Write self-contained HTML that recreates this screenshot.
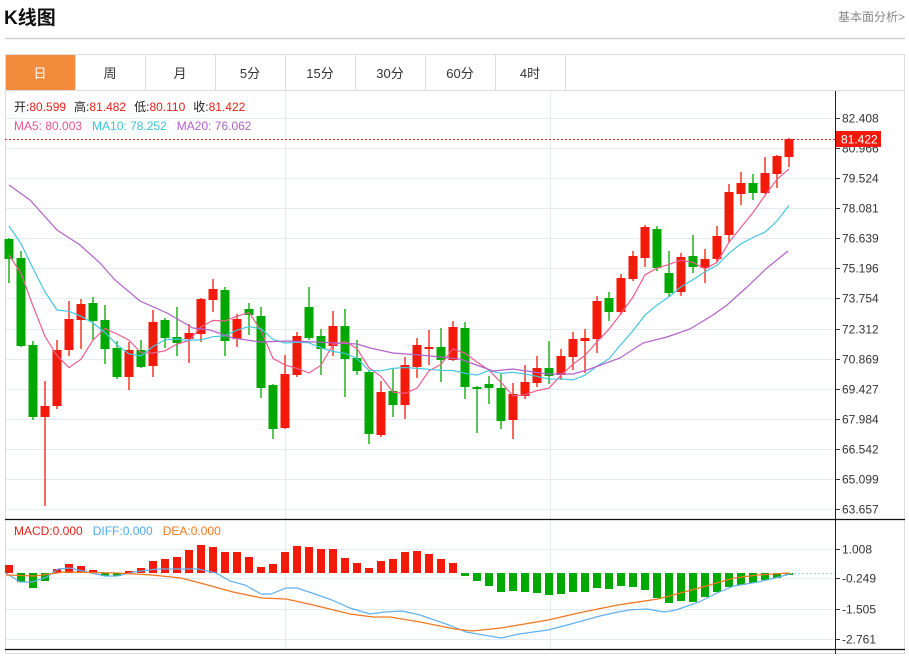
<!DOCTYPE html>
<html><head><meta charset="utf-8"><style>
body{margin:0;background:#fff;width:909px;height:654px;overflow:hidden;font-family:"Liberation Sans","Noto Sans CJK SC",sans-serif;}
</style></head><body>
<svg id="s" width="909" height="654" xmlns="http://www.w3.org/2000/svg" font-family="Liberation Sans, Noto Sans CJK SC, sans-serif">
<text x="4" y="24" font-size="19" font-weight="bold" fill="#111">K线图</text>
<text x="905" y="21" font-size="12" fill="#888" text-anchor="end">基本面分析&gt;</text>
<line x1="5" y1="38.5" x2="905" y2="38.5" stroke="#d0d0d0" stroke-width="1.5"/>
<rect x="5.5" y="54.5" width="899" height="599" fill="none" stroke="#dcdcdc"/>
<line x1="5" y1="90.5" x2="905" y2="90.5" stroke="#dcdcdc"/>
<rect x="6" y="55" width="69" height="35" fill="#f28c3c"/>
<g id="tabs"></g>
<g id="grid"></g>
<g id="cand"></g>
<g id="lines"></g>
<g id="macd"></g>
<line x1="835.5" y1="91" x2="835.5" y2="654" stroke="#222"/>
<line x1="5" y1="519.5" x2="905" y2="519.5" stroke="#111" stroke-width="1.2"/>
<line x1="5" y1="649.5" x2="905" y2="649.5" stroke="#111" stroke-width="1.2"/>
<line x1="5" y1="139.5" x2="835" y2="139.5" stroke="#e02020" stroke-dasharray="2,2"/>
<rect x="836" y="131" width="45" height="16" fill="#f21a0a"/>
<text x="841" y="143.5" font-size="12" fill="#fff">81.422</text>
<text x="14" y="111" font-size="12"><tspan fill="#222">开:</tspan><tspan fill="#e8201a">80.599</tspan><tspan fill="#222" dx="8">高:</tspan><tspan fill="#e8201a">81.482</tspan><tspan fill="#222" dx="8">低:</tspan><tspan fill="#e8201a">80.110</tspan><tspan fill="#222" dx="8">收:</tspan><tspan fill="#e8201a">81.422</tspan></text>
<text x="14" y="130" font-size="12"><tspan fill="#e8548c">MA5: 80.003</tspan><tspan fill="#3cc0dc" dx="10">MA10: 78.252</tspan><tspan fill="#b060c8" dx="10">MA20: 76.062</tspan></text>
<text x="14" y="535" font-size="12"><tspan fill="#e8201a">MACD:0.000</tspan><tspan fill="#4aa8f0" dx="10">DIFF:0.000</tspan><tspan fill="#f07820" dx="10">DEA:0.000</tspan></text>
</svg>
<script>
var NS="http://www.w3.org/2000/svg";
function el(p,t,a,txt){var e=document.createElementNS(NS,t);for(var k in a)e.setAttribute(k,a[k]);if(txt!=null)e.textContent=txt;document.getElementById(p).appendChild(e);return e;}
var tabs=["日","周","月","5分","15分","30分","60分","4时"];
tabs.forEach(function(t,i){var x=5+70*i;el("tabs","line",{x1:x+70.5,y1:55,x2:x+70.5,y2:90,stroke:"#dcdcdc"});
el("tabs","text",{x:x+35,y:78,"font-size":13,"text-anchor":"middle",fill:i==0?"#fff":"#333"},t);});
var labs=["82.408","80.966","79.524","78.081","76.639","75.196","73.754","72.312","70.869","69.427","67.984","66.542","65.099","63.657"];
labs.forEach(function(l,i){var y=Math.round(118+i*30.08)+0.5;
el("grid","line",{x1:6,y1:y,x2:835,y2:y,stroke:"#e4ebf1"});
el("grid","line",{x1:836,y1:y,x2:840,y2:y,stroke:"#333"});
el("grid","text",{x:842,y:y+4,"font-size":12,fill:"#333"},l);});
[[549,"1.008"],[578,"-0.249"],[609,"-1.505"],[639,"-2.761"]].forEach(function(a){var y=a[0]+0.5;
el("grid","line",{x1:6,y1:y,x2:835,y2:y,stroke:"#e4ebf1"});
el("grid","line",{x1:836,y1:y,x2:840,y2:y,stroke:"#333"});
el("grid","text",{x:842,y:y+4,"font-size":12,fill:"#333"},a[1].replace("-","- ").replace("- ","-"));});
[285.5,550.5].forEach(function(x){el("grid","line",{x1:x,y1:91,x2:x,y2:649,stroke:"#e4ebf1"});});
el("grid","line",{x1:5,y1:118.5,x2:835,y2:118.5,stroke:"#e4ebf1"});
// candles: [color, bodyTop, bodyBot, high, low]
var C=[["g",239,259,238,283],["g",258,346,251,347],["g",345,417,341,420],["r",406,417,381,506],["r",350,406,340,409],["r",319,350,301,356],["r",304,320,299,349],["g",303,321,297,340],["g",320,349,305,364],["g",348,377,341,379],["r",350,377,342,390],["g",350,367,340,368],["r",322,366,310,377],["g",320,338,318,348],["g",337,343,307,356],["r",333,339,324,363],["r",299,334,298,342],["r",289,300,279,312],["g",290,341,287,356],["r",319,339,314,347],["g",309,315,303,335],["g",316,388,307,398],["g",385,429,384,439],["r",374,428,355,429],["r",336,375,332,377],["g",307,338,287,340],["g",336,349,329,375],["r",326,346,311,356],["g",326,359,309,397],["g",358,371,340,375],["g",372,434,370,444],["r",392,435,381,437],["g",391,405,368,417],["r",365,405,357,419],["r",345,367,338,378],["r",347,349,330,365],["g",347,360,328,382],["r",327,360,321,361],["g",328,387,322,399],["g",387,389,386,433],["g",384,388,376,404],["g",388,421,374,429],["r",394,420,383,439],["r",382,396,365,399],["r",368,383,356,387],["g",368,376,341,384],["r",356,375,349,380],["r",339,357,332,370],["r",338,341,329,373],["r",301,339,296,353],["g",298,312,292,321],["r",278,312,274,315],["r",256,279,251,281],["r",227,258,225,267],["g",229,268,226,271],["g",273,293,251,297],["r",257,292,253,296],["g",256,267,235,273],["r",259,268,249,283],["r",236,259,226,262],["r",192,235,184,243],["r",183,194,172,205],["g",183,193,174,200],["r",173,193,157,194],["r",156,174,155,188],["r",139,157,138,167]];
var closes=[170,170,170,170,306,254,254,254,254];
C.forEach(function(c,i){var x=9+12*i;var col=c[0]=="r"?"#f21a0a":"#02a802";
el("cand","line",{x1:x,y1:c[3],x2:x,y2:c[4],stroke:col,"stroke-width":1.3});
el("cand","rect",{x:x-4.5,y:c[1],width:9,height:Math.max(1.5,c[2]-c[1]),fill:col});
closes.push(c[0]=="r"?c[1]:c[2]);});
function ma(n){var p=[];for(var i=0;i<C.length;i++){var j=i+9,s=0;for(var k=0;k<n;k++)s+=closes[j-k];p.push((9+12*i)+","+(s/n).toFixed(1));}return p.join(" ");}
el("lines","polyline",{points:ma(5),fill:"none",stroke:"#ec5d8f","stroke-width":1.2});
el("lines","polyline",{points:ma(10),fill:"none",stroke:"#45c6de","stroke-width":1.2});
el("lines","polyline",{points:"9,185 30,200 57,230 80,245 100,263 115,280 140,301 167,313 193,328 210,330 233,338 260,342 287,341 317,342 357,344 370,348 393,353 420,355 460,359 493,371 513,369 547,374 573,374 587,370 620,358 643,343 667,337 690,329 713,315 727,305 747,287 767,268 788,251",fill:"none",stroke:"#b362cc","stroke-width":1.2});
var M=[565,582,588,581,569,564,566,570,576,576,571,568,561,559,557,550,545,547,552,552,557,567,564,552,546,547,549,549,558,563,568,561,559,552,551,554,559,563,576,581,586,592,591,592,593,595,594,592,592,588,589,586,587,590,598,603,601,602,597,592,587,585,583,580,578,575];
var z=573;
M.forEach(function(y,i){var x=9+12*i;var up=y<z;el("macd","rect",{x:x-4,y:up?y:z,width:8,height:Math.max(1,Math.abs(y-z)),fill:up?"#f21a0a":"#02a802"});});
el("macd","line",{x1:790,y1:573.5,x2:835,y2:573.5,stroke:"#9fd3f0","stroke-dasharray":"2,2"});
el("macd","polyline",{points:"6,573 20,582 32,582 47,577 58,569 70,568 87,572 105,576 117,576 134,572 157,569 198,569 216,573 230,581 245,585 261,594 271,594 286,588 297,588 315,594 332,600 350,608 370,614 385,612 402,611 420,615 449,625 466,632 501,638 519,634 548,630 571,624 600,616 618,612 629,610 647,609 664,612 676,610 699,602 717,593 734,586 758,582 775,578 790,574",fill:"none",stroke:"#5fb0f0","stroke-width":1.2});
el("macd","polyline",{points:"6,575 35,576 64,572 117,573 152,575 181,578 204,584 233,592 262,598 286,599 309,604 350,614 373,617 390,617 420,622 455,629 472,631 501,628 548,620 583,612 618,605 658,599 699,588 734,578 758,575 790,573",fill:"none",stroke:"#f07820","stroke-width":1.3});
</script>
</body></html>
